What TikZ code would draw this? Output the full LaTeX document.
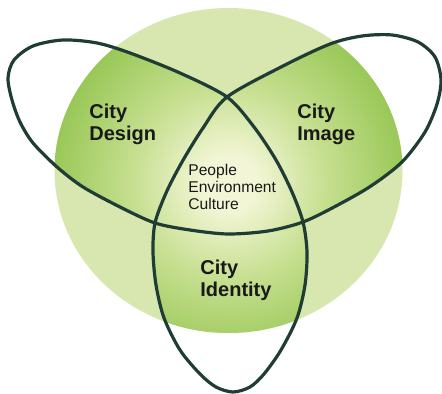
\documentclass[tikz,border=0pt]{standalone}
\usepackage{fontspec}
\setmainfont{Liberation Sans}
\definecolor{paleLime}{HTML}{D8E7B0}
\definecolor{leafGreen}{HTML}{9AC858}
\definecolor{midLime}{HTML}{C6DF90}
\definecolor{coreCream}{HTML}{F3F6D6}
\definecolor{knotDark}{HTML}{1F3D35}
\pgfdeclareradialshading{glowCity}{\pgfpoint{0bp}{0bp}}{%
  color(0bp)=(coreCream); color(3bp)=(coreCream); color(11bp)=(midLime);
  color(20bp)=(leafGreen); color(50bp)=(leafGreen)}
\newcommand\trefoilcurve{plot[smooth cycle] coordinates {
  (227,97) (180,73) (130,53) (97,43) (63,40) (33,46) (14,60) (8,78) (12,100)
  (20,122) (33,143) (57,167) (83,187) (120,207) (155,223) (190,230) (228,234)
  (268,231) (303,222) (336,206) (371,186) (402,162) (425,132) (437,104)
  (441,80) (435,57) (418,42) (392,35) (362,36) (330,44) (283,66) (227,97)
  (203,128) (182,162) (166,193) (155,223) (153,252) (156,285) (164,318)
  (180,350) (200,374) (216,387) (233,392) (250,387) (264,374) (281,350)
  (297,318) (305,285) (307,252) (303,222) (292,192) (276,160) (254,127)}}
\tikzset{
  lobetext/.style={font=\bfseries\fontsize{10}{11}\selectfont,align=left,
    inner sep=0pt,anchor=north west,text=black!90},
  coretext/.style={font=\fontsize{7.8}{8.4}\selectfont,align=left,
    inner sep=0pt,anchor=north west,text=black!90}
}

\begin{document}
\begin{tikzpicture}[x=.5pt,y=-.5pt]
  \useasboundingbox (0,0) rectangle (442,394);
  \coordinate (O) at (228.5,170.5);
  \fill[paleLime] (O) ellipse (174 and 162.5);
  % green lobes, only inside the disc
  \begin{scope}
    \clip (O) ellipse (174 and 162.5);
    \clip \trefoilcurve;
    \shade[shading=glowCity] (229,183) circle (220);
  \end{scope}
  \draw[knotDark,line width=1.6pt,line join=round] \trefoilcurve;
  \node[lobetext] (design) at (89,104) {City\\Design};
  \node[lobetext] (image) at (297,104) {City\\Image};
  \node[lobetext] (identity) at (200,260) {City\\Identity};
  \node[coretext] (core) at (188,164) {People\\Environment\\Culture};
\end{tikzpicture}
\end{document}
